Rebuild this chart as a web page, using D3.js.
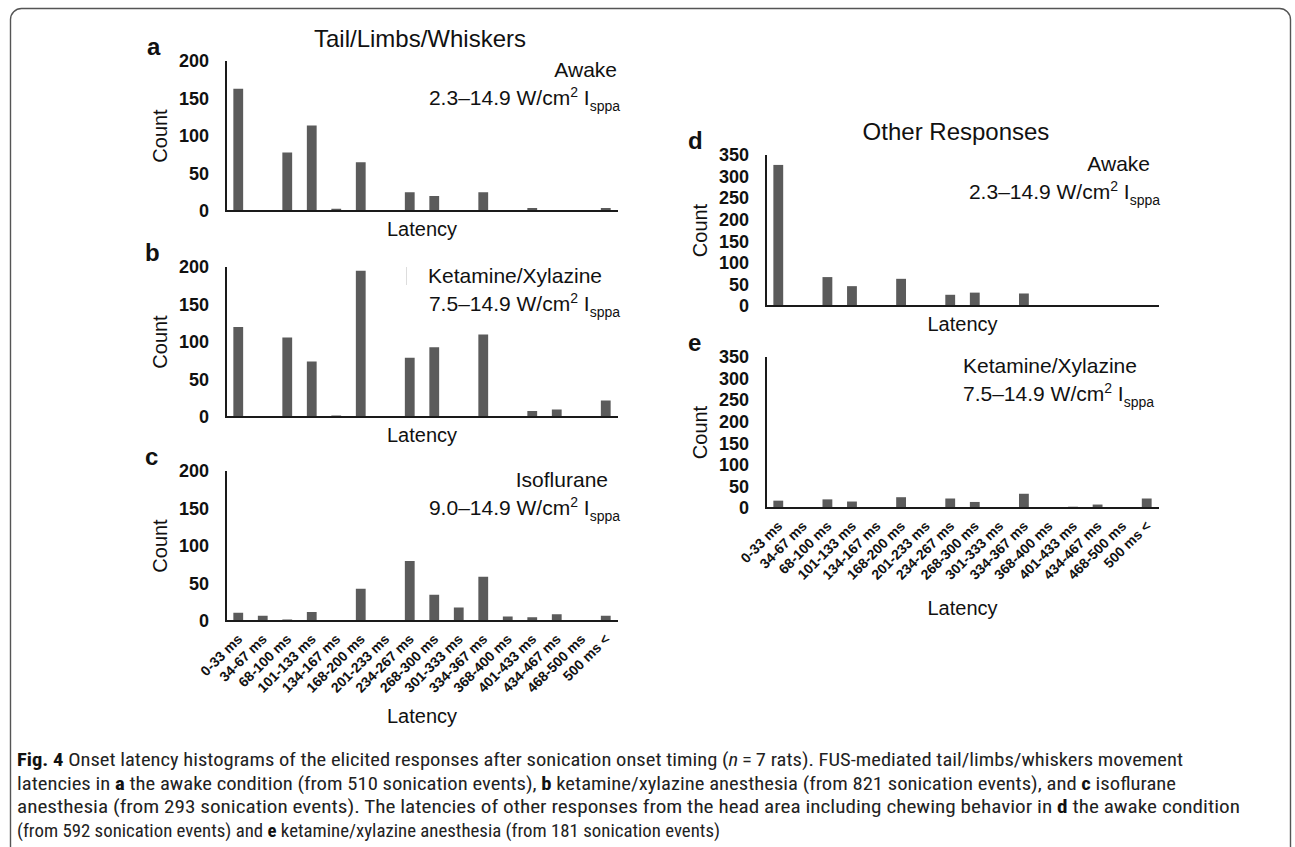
<!DOCTYPE html>
<html>
<head>
<meta charset="utf-8">
<script src="https://cdnjs.cloudflare.com/ajax/libs/d3/7.8.5/d3.min.js"></script>
<style>
  body { margin: 0; background: #fff; }
  svg { display: block; }
  text { font-family: "Liberation Sans", Arial, sans-serif; fill: #111; }
  .tick-lab { font-weight: bold; font-size: 18px; }
  .cat-lab { font-weight: bold; font-size: 14px; }
  .caption { font-family: "Liberation Sans Narrow", "Roboto Condensed", "Open Sans", sans-serif; font-size: 18.5px; fill: #222; }
</style>
</head>
<body>
<svg id="fig" width="1295" height="847"></svg>
<script>
// latency bins (x categories)
var latencyBins = ["0-33 ms", "34-67 ms", "68-100 ms", "101-133 ms", "134-167 ms", "168-200 ms",
    "201-233 ms", "234-267 ms", "268-300 ms", "301-333 ms", "334-367 ms", "368-400 ms",
    "401-433 ms", "434-467 ms", "468-500 ms", "500 ms <"];

// counts
var countsAwakeLimbs      = [163, 0, 78, 114, 3, 65, 0, 25, 20, 0, 25, 0, 4, 0, 0, 4];
var countsKetamineLimbs   = [120, 0, 106, 74, 2, 195, 0, 79, 93, 0, 110, 0, 8, 10, 0, 22];
var countsIsofluraneLimbs = [11, 7, 2, 12, 0, 43, 0, 80, 35, 18, 59, 6, 5, 9, 0, 7];
var countsAwakeOther      = [327, 0, 67, 46, 0, 63, 0, 26, 31, 0, 29, 0, 0, 0, 0, 2];
var countsKetamineOther   = [17, 0, 20, 15, 0, 25, 0, 22, 14, 0, 33, 0, 3, 8, 0, 22];

var ticksLimbs = [0, 50, 100, 150, 200];
var ticksOther = [0, 50, 100, 150, 200, 250, 300, 350];

var svg = d3.select("#fig");

// frame of the figure
svg.append("rect")
    .attr("x", 10.5).attr("y", 8.5)
    .attr("width", 1280).attr("height", 900)
    .attr("rx", 11)
    .attr("fill", "none")
    .attr("stroke", "#555")
    .attr("stroke-width", 1.4);

function drawPanel(p) {
    var g = svg.append("g");

    var x = d3.scaleBand()
        .domain(latencyBins)
        .range([p.x0, p.x1])
        .paddingInner(0.6)
        .paddingOuter(0.3);

    var y = d3.scaleLinear()
        .domain([0, p.ymax])
        .range([p.yb, p.yt]);

    // bars
    g.selectAll(".bar")
        .data(p.values)
        .enter()
        .append("rect")
        .attr("class", "bar")
        .attr("x", function (d, i) { return x(latencyBins[i]); })
        .attr("y", function (d) { return y(d); })
        .attr("width", x.bandwidth())
        .attr("height", function (d) { return y(0) - y(d); })
        .attr("fill", "#5b5b5b");

    // y axis, no tick marks, bold labels
    var yAxis = d3.axisLeft(y)
        .tickValues(p.ticks)
        .tickSize(0)
        .tickPadding(17);
    var ya = g.append("g")
        .attr("transform", "translate(" + p.x0 + ",0)")
        .call(yAxis);
    ya.select(".domain").remove();
    ya.selectAll("text")
        .attr("class", "tick-lab")
        .attr("fill", "#111")
        .attr("font-size", null)
        .attr("font-family", null);

    g.append("line")
        .attr("x1", p.x0).attr("x2", p.x0)
        .attr("y1", p.yt).attr("y2", p.yb + 1)
        .attr("stroke", "#1a1a1a").attr("stroke-width", 2);
    g.append("line")
        .attr("x1", p.x0 - 1).attr("x2", p.x1)
        .attr("y1", p.yb).attr("y2", p.yb)
        .attr("stroke", "#1a1a1a").attr("stroke-width", 2);

    // category labels only on the bottom panels
    if (p.showCats) {
        var xAxis = d3.axisBottom(x).tickSize(0).tickPadding(0);
        var xa = g.append("g")
            .attr("transform", "translate(0," + p.yb + ")")
            .call(xAxis);
        xa.select(".domain").remove();
        xa.selectAll("text")
            .attr("class", "cat-lab")
            .attr("fill", "#111")
            .attr("font-size", null)
            .attr("font-family", null)
            .attr("text-anchor", "end")
            .attr("dy", null)
            .attr("y", null)
            .attr("transform", "translate(5,19) rotate(-45)");
    }

    // axis titles
    g.append("text")
        .attr("x", (p.x0 + p.x1) / 2)
        .attr("y", p.latY)
        .attr("text-anchor", "middle")
        .attr("font-size", 20)
        .text("Latency");

    g.append("text")
        .attr("transform", "translate(" + (p.x0 - 59) + "," + ((p.yt + p.yb) / 2) + ") rotate(-90)")
        .attr("text-anchor", "middle")
        .attr("font-size", 20)
        .text("Count");

    // panel letter
    g.append("text")
        .attr("x", p.letterX)
        .attr("y", p.yt - 6)
        .attr("font-size", 24)
        .attr("font-weight", "bold")
        .text(p.letter);

    // condition and intensity
    g.append("text")
        .attr("x", p.condX)
        .attr("y", p.yt + 16)
        .attr("text-anchor", p.anchor)
        .attr("font-size", 21)
        .text(p.condition);

    var t = g.append("text")
        .attr("x", p.intX)
        .attr("y", p.yt + 44)
        .attr("text-anchor", p.anchor)
        .attr("font-size", 21);
    t.append("tspan").text(p.intensity + " W/cm");
    t.append("tspan").attr("font-size", 14).attr("dy", -8).text("2");
    t.append("tspan").attr("dy", 8).text(" I");
    t.append("tspan").attr("font-size", 14).attr("dy", 6).text("sppa");
}

drawPanel({ letter: "a", letterX: 147, x0: 226, x1: 618, yt: 61, yb: 211, ymax: 200, ticks: ticksLimbs,
    values: countsAwakeLimbs, condition: "Awake", intensity: "2.3\u201314.9",
    anchor: "end", condX: 617, intX: 620, latY: 236, showCats: false });
drawPanel({ letter: "b", letterX: 145, x0: 226, x1: 618, yt: 267, yb: 417, ymax: 200, ticks: ticksLimbs,
    values: countsKetamineLimbs, condition: "Ketamine/Xylazine", intensity: "7.5\u201314.9",
    anchor: "end", condX: 602, intX: 620, latY: 442, showCats: false });
drawPanel({ letter: "c", letterX: 145, x0: 226, x1: 618, yt: 471, yb: 621, ymax: 200, ticks: ticksLimbs,
    values: countsIsofluraneLimbs, condition: "Isoflurane", intensity: "9.0\u201314.9",
    anchor: "end", condX: 608, intX: 620, latY: 723, showCats: true });
drawPanel({ letter: "d", letterX: 688, x0: 766, x1: 1159, yt: 155, yb: 306, ymax: 350, ticks: ticksOther,
    values: countsAwakeOther, condition: "Awake", intensity: "2.3\u201314.9",
    anchor: "end", condX: 1150, intX: 1160, latY: 331, showCats: false });
drawPanel({ letter: "e", letterX: 688, x0: 766, x1: 1159, yt: 357, yb: 508, ymax: 350, ticks: ticksOther,
    values: countsKetamineOther, condition: "Ketamine/Xylazine", intensity: "7.5\u201314.9",
    anchor: "start", condX: 963, intX: 963, latY: 615, showCats: true });

// faint stray mark next to the b annotation
svg.append("line")
    .attr("x1", 406.5).attr("x2", 406.5)
    .attr("y1", 267).attr("y2", 285)
    .attr("stroke", "#ddd").attr("stroke-width", 1);

// group titles
svg.append("text").attr("x", 420).attr("y", 47).attr("text-anchor", "middle")
    .attr("font-size", 24).text("Tail/Limbs/Whiskers");
svg.append("text").attr("x", 956).attr("y", 140).attr("text-anchor", "middle")
    .attr("font-size", 24).text("Other Responses");

// caption
var captionLines = [
    [["b", "Fig. 4"], ["r", "  Onset latency histograms of the elicited responses after sonication onset timing ("], ["i", "n"], ["r", "\u2009=\u20097 rats). FUS-mediated tail/limbs/whiskers movement"]],
    [["r", "latencies in "], ["b", "a"], ["r", " the awake condition (from 510 sonication events), "], ["b", "b"], ["r", " ketamine/xylazine anesthesia (from 821 sonication events), and "], ["b", "c"], ["r", " isoflurane"]],
    [["r", "anesthesia (from 293 sonication events). The latencies of other responses from the head area including chewing behavior in "], ["b", "d"], ["r", " the awake condition"]],
    [["r", "(from 592 sonication events) and "], ["b", "e"], ["r", " ketamine/xylazine anesthesia (from 181 sonication events)"]]
];
var captionWidths = [1166, 1159, 1223, 703];

captionLines.forEach(function (line, k) {
    var ct = svg.append("text")
        .attr("class", "caption")
        .attr("x", 17)
        .attr("y", 766 + k * 23.7)
        .attr("textLength", captionWidths[k])
        .attr("lengthAdjust", "spacingAndGlyphs");
    line.forEach(function (seg) {
        var s = ct.append("tspan").text(seg[1]);
        if (seg[0] === "b") s.attr("font-weight", "bold").attr("fill", "#111");
        if (seg[0] === "i") s.attr("font-style", "italic");
    });
});
</script>
</body>
</html>
